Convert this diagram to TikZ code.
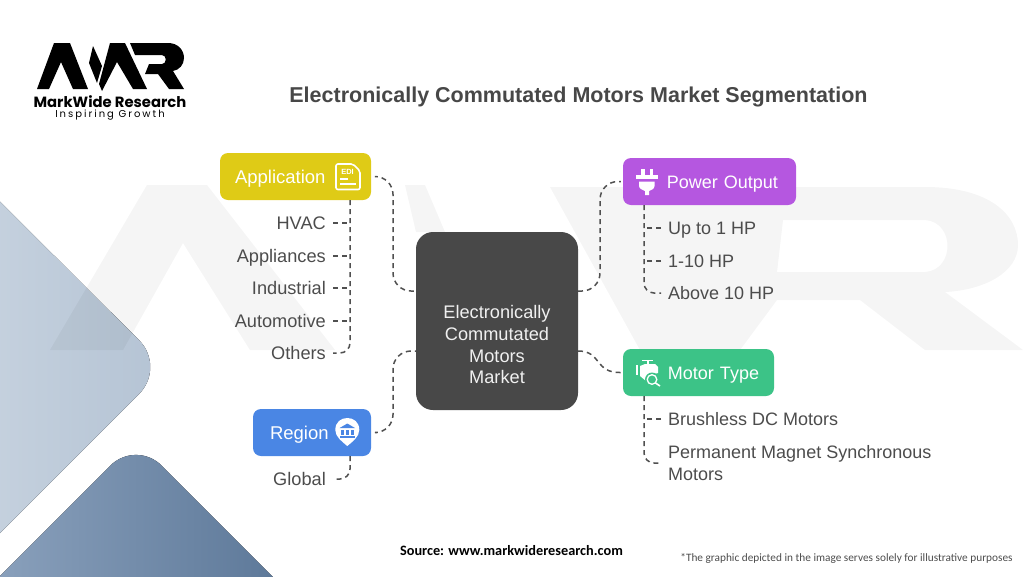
\documentclass[tikz,border=0pt]{standalone}
\usepackage{fontspec}
\setmainfont{Liberation Sans}
\newfontfamily\logofont{Poppins}
\newfontfamily\tagfont[LetterSpace=20]{Poppins}
\newfontfamily\notefont{Carlito}
\usetikzlibrary{positioning}
\definecolor{appyellow}{HTML}{DFCB16}
\definecolor{powerpurple}{HTML}{B557E0}
\definecolor{motorgreen}{HTML}{3CC387}
\definecolor{regionblue}{HTML}{4A86E4}
\definecolor{coregrey}{HTML}{484848}
\definecolor{linkgrey}{HTML}{505050}
\definecolor{textgrey}{HTML}{4C4C4C}
\definecolor{paleleft}{HTML}{CAD5E1}
\definecolor{paleright}{HTML}{B4C3D4}
\definecolor{deepleft}{HTML}{8FA5C0}
\definecolor{deepright}{HTML}{587495}
\tikzset{
  catbox/.style={rounded corners=8pt, minimum height=47pt, inner ysep=0pt, align=left, text=white, text height=16.5pt, text depth=3.5pt},
  corebox/.style={fill=coregrey, rounded corners=17pt, minimum width=162pt, minimum height=178pt, align=center, text=white!94!black, font=\fontsize{18.2}{21.6}\selectfont},
  leftitem/.style={text=textgrey, inner sep=7pt, anchor=east, font=\fontsize{18.2}{22}\selectfont, text height=16.5pt, text depth=3.5pt},
  rightitem/.style={text=textgrey, inner sep=7pt, anchor=west, align=left, font=\fontsize{18}{22}\selectfont},
  link/.style={draw=linkgrey, line width=1.5pt, dash pattern=on 5pt off 4pt},
  corelink/.style={link, rounded corners=18pt},
  subtrunk/.style={link, rounded corners=10pt},
  watermark/.style={fill=black, fill opacity=0.04}
}
\begin{document}
\begin{tikzpicture}[x=1pt,y=-1pt]
\useasboundingbox (0,0) rectangle (1024,576);
\clip (0,0) rectangle (1024,576);

\fill[left color=paleleft, right color=paleright] (-60,142) [rounded corners=38pt] -- (166,367) -- (-60,593) -- cycle;
\fill[left color=deepleft, right color=deepright] (-40,616) [rounded corners=36pt] -- (136,440) -- (312,616) -- cycle;

\fill[watermark] (50,350) -- (147,185) -- (207,185) -- (335,350) -- (250,350) -- (183,243) -- (123,350) -- cycle;
\fill[watermark] (405,185) -- (425,185) -- (445,232) -- (416,232) -- cycle;
\fill[watermark, even odd rule] (550,187) -- (925,187) .. controls (990,187) and (1018,215) .. (1018,245) .. controls (1018,272) and (985,290) .. (945,292) -- (1023,350) -- (925,350) -- (860,300) -- (777,300) -- (740,350) -- (640,350) -- cycle (783,220) -- (925,220) .. controls (955,222) and (955,270) .. (925,272) -- (777,272) -- cycle;

\fill[black] (37,89) -- (54,43) -- (70,43) -- (88,89) -- (73,89) -- (61,62) -- (49,89) -- cycle;
\fill[black] (93,46) -- (102,66) -- (97,83) -- (89,63) -- cycle;
\fill[black] (99,84) -- (110,43) -- (125,43) -- (147,89) -- (133,89) -- (117,62) -- (102,91) -- cycle;
\fill[black] (130,43) -- (168,43) .. controls (178,43) and (184,50) .. (184,58) .. controls (184,65) and (179,70) .. (173,71) -- (184,89) -- (169,89) -- (158,74) -- (145,74) -- (149,64) -- (162,64) .. controls (167,64) and (167,55) .. (162,55) -- (135,55) -- cycle;
\node[inner sep=0pt, font=\logofont\bfseries\fontsize{14.8}{16}\selectfont] (logoname) at (110,101.5) {MarkWide Research};
\node[inner sep=0pt, font=\tagfont\fontsize{10}{11}\selectfont] (logotag) at (110,115) {Inspiring Growth};

\node[inner sep=0pt, text=black!72, font=\bfseries\fontsize{21.5}{26}\selectfont] (title) at (578.5,96.5) {Electronically Commutated Motors Market Segmentation};

\node[corebox] (core) at (497,321) {\mbox{}\\[39pt]Electronically\\Commutated\\Motors\\Market};
\coordinate (coreLup) at (416,291);
\coordinate (coreLdown) at (416,351);
\coordinate (coreRup) at (578,291);
\coordinate (coreRdown) at (578,351);
\coordinate (bendAL) at (393,291);
\coordinate (bendRE) at (393,351);
\coordinate (bendPO) at (600,291);

\node[catbox, fill=appyellow, inner xsep=15pt, text width=121pt, font=\fontsize{18.5}{22}\selectfont] (application) at (295.5,176.5) {Application};
\node[catbox, fill=powerpurple, inner xsep=18pt, text width=137pt, align=right, font=\fontsize{18}{22}\selectfont] (power) at (709.5,181.5) {Power Output};
\node[catbox, fill=motorgreen, inner xsep=15pt, text width=121pt, align=right, font=\fontsize{18}{22}\selectfont] (motor) at (698.5,372.5) {Motor Type};
\node[catbox, fill=regionblue, inner xsep=17pt, text width=84pt, font=\fontsize{18.5}{22}\selectfont] (region) at (312,432.5) {Region};

\draw[corelink, shorten <=6pt] (application.east) -| (bendAL) -- (coreLup);
\draw[corelink, shorten <=6pt] (region.east) -| (bendRE) -- (coreLdown);
\draw[corelink, shorten >=2pt] (coreRup) -- (bendPO) |- (power.west);
\draw[link, shorten >=2pt] (coreRdown) .. controls (602,351) and (594,373) .. (motor.west);

\node[leftitem] (hvac) at (333,223) {HVAC};
\node[leftitem] (appliances) at (333,256) {Appliances};
\node[leftitem] (industrial) at (333,288) {Industrial};
\node[leftitem] (automotive) at (333,321) {Automotive};
\node[leftitem] (others) at (333,353) {Others};
\node[leftitem] (global) at (333,479) {Global};
\node[rightitem, text height=16.5pt, text depth=3.5pt] (upto) at (661,228) {Up to 1 HP};
\node[rightitem, text height=16.5pt, text depth=3.5pt] (midhp) at (661,261) {1-10 HP};
\node[rightitem, text height=16.5pt, text depth=3.5pt] (above) at (661,293) {Above 10 HP};
\node[rightitem, text height=16.5pt, text depth=3.5pt] (brushless) at (661,419) {Brushless DC Motors};
\node[rightitem] (permanent) at (661,463) {Permanent Magnet Synchronous\\Motors};

\coordinate (apptop) at (350,200);
\coordinate (regiontop) at (350,456);
\coordinate (powertop) at (644,205);
\coordinate (motortop) at (644,396);

\draw[subtrunk] (apptop) |- (others.east);
\draw[link] (hvac.east) -- (hvac.east -| apptop);
\draw[link] (appliances.east) -- (appliances.east -| apptop);
\draw[link] (industrial.east) -- (industrial.east -| apptop);
\draw[link] (automotive.east) -- (automotive.east -| apptop);
\draw[subtrunk] (regiontop) |- (global.east);
\draw[subtrunk] (powertop) |- (above.west);
\draw[link] (upto.west) -- (upto.west -| powertop);
\draw[link] (midhp.west) -- (midhp.west -| powertop);
\draw[subtrunk] (motortop) |- (permanent.west);
\draw[link] (brushless.west) -- (brushless.west -| motortop);

\draw[white, line width=1.6pt, rounded corners=2pt] (336,164) -- (353,164) -- (360,171) -- (360,189.5) -- (336,189.5) -- cycle;
\node[inner sep=0pt, text=white, font=\bfseries\fontsize{7.5}{8}\selectfont] (editag) at (347.5,172) {EDI};
\draw[white, line width=1.5pt] (340,179) -- (348,179);
\draw[white, line width=1.5pt] (340,184) -- (356,184);

\fill[white] (641,169) rectangle (645,175);
\fill[white] (649.5,169) rectangle (653,175);
\fill[white] (636,175) rectangle (657.5,179);
\fill[white] (639,181.5) -- (654.5,181.5) -- (654.5,186) .. controls (654.5,189) and (651,190) .. (649,191) -- (649,195) -- (645,195) -- (645,191) .. controls (643,190) and (639,189) .. (639,186) -- cycle;

\fill[white] (636,365) rectangle (638,375);
\fill[white] (642,359.5) rectangle (653,361);
\fill[white] (646.5,361) rectangle (648.5,364);
\fill[white] (640,366) -- (645,364) -- (655,364) -- (658,367) -- (658,373) -- (650,375) -- (646,381) -- (640,376) -- cycle;
\fill[motorgreen] (652,379.5) circle (7pt);
\draw[white, line width=1.3pt] (652,379.5) circle (4.8pt);
\draw[white, line width=1.6pt] (655.5,383) -- (660,386);

\fill[white] (335.3,430) .. controls (335.3,422) and (341,418) .. (347.3,418) .. controls (353.6,418) and (359.3,422) .. (359.3,430) .. controls (359.3,437) and (352,442) .. (347.3,446) .. controls (342.6,442) and (335.3,437) .. (335.3,430) -- cycle;
\fill[regionblue] (347.3,423.5) -- (355,428) -- (339.6,428) -- cycle;
\fill[regionblue] (341,429.5) rectangle (343.5,434.5);
\fill[regionblue] (346,429.5) rectangle (348.5,434.5);
\fill[regionblue] (351,429.5) rectangle (353.5,434.5);
\fill[regionblue] (339.6,435.5) rectangle (355,437.5);

\node[inner sep=0pt, text=black, font=\notefont\bfseries\fontsize{14.3}{17}\selectfont] (source) at (511.5,551) {Source: www.markwideresearch.com};
\node[inner sep=0pt, text=black!70, font=\notefont\fontsize{11.3}{14}\selectfont] (disclaimer) at (846.5,558) {*The graphic depicted in the image serves solely for illustrative purposes};
\end{tikzpicture}
\end{document}
